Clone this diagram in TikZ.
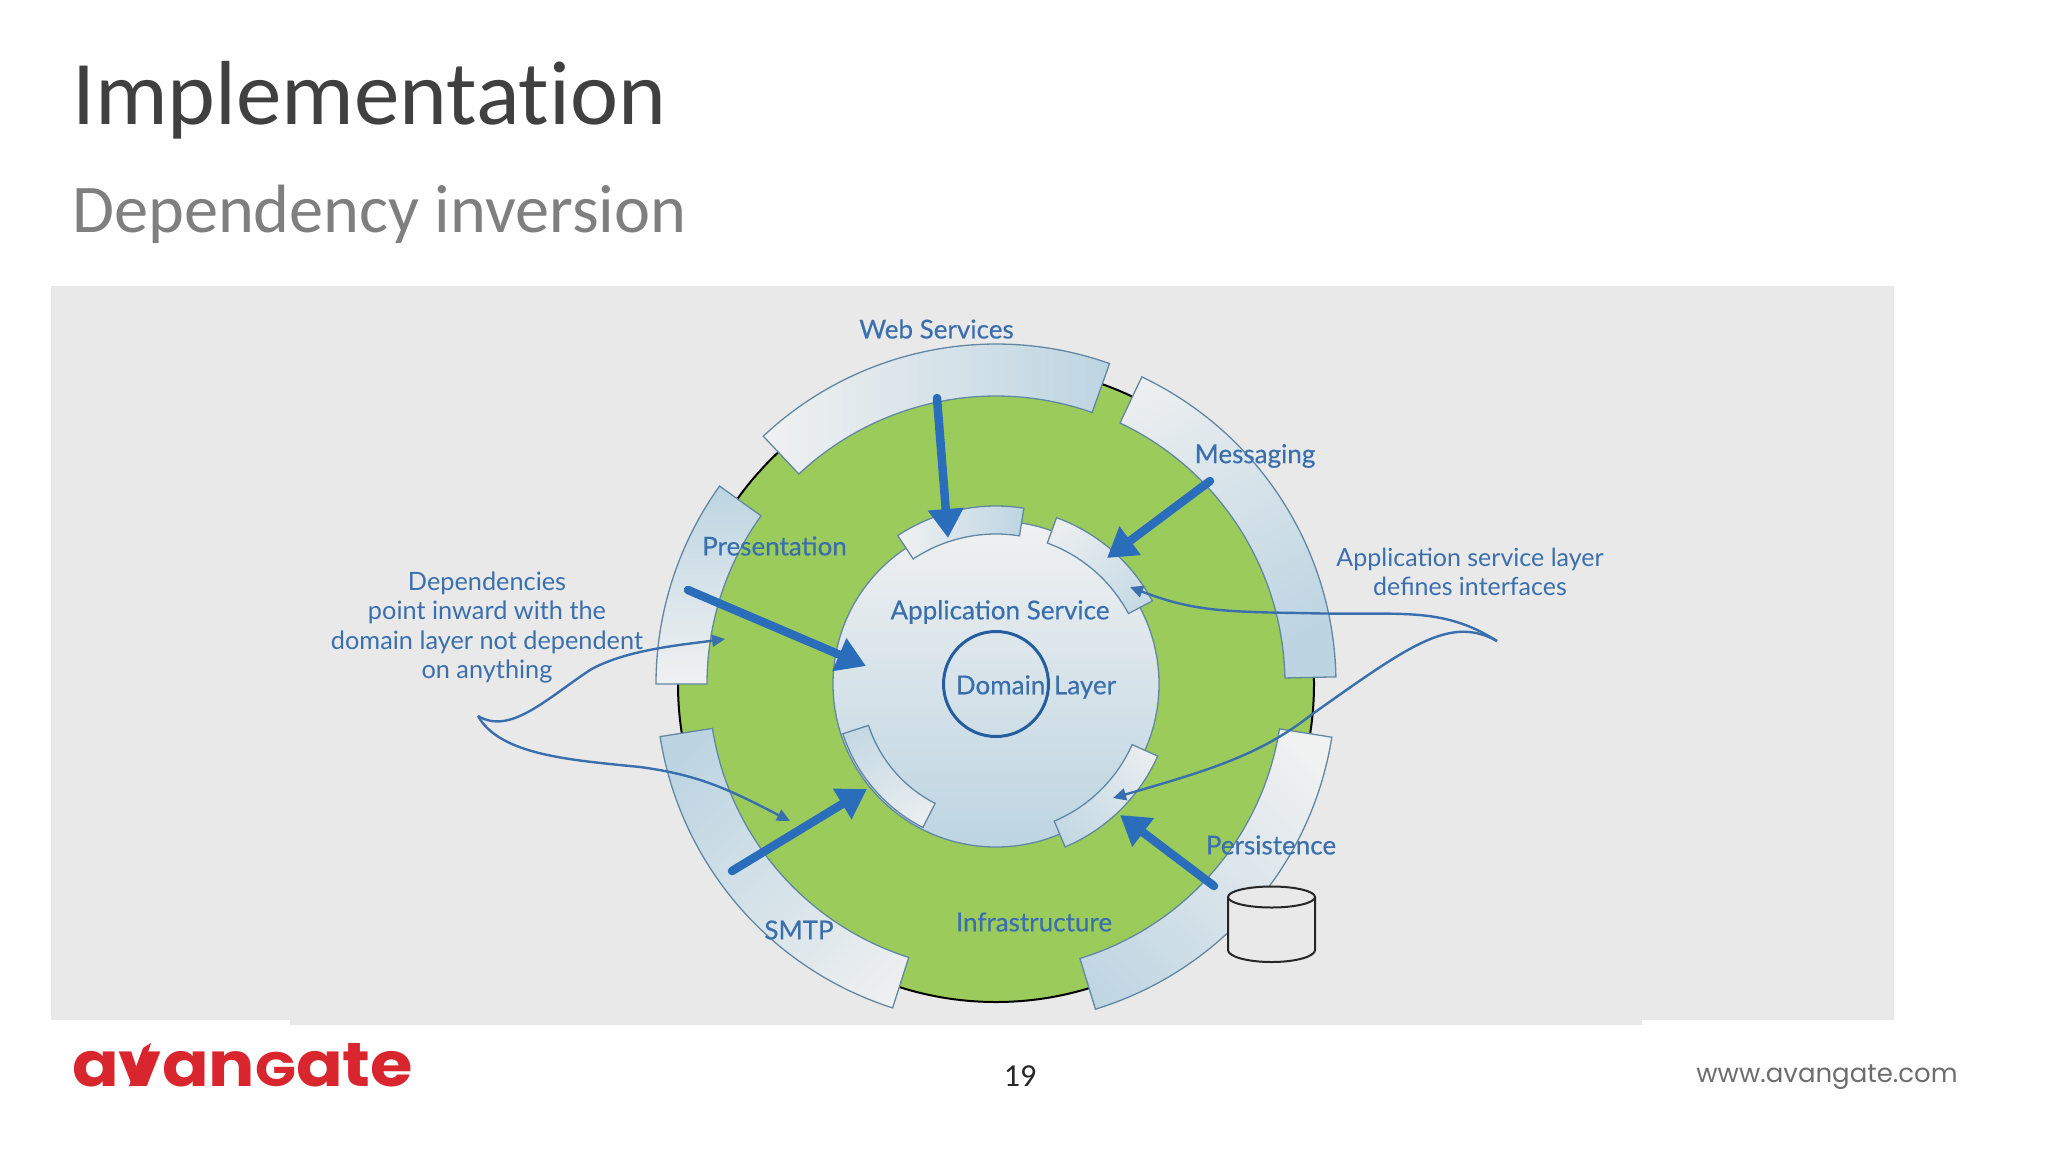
\documentclass[tikz,border=0pt]{standalone}
\usepackage{fontspec}
\usetikzlibrary{arrows.meta,shadings,calc}
\setmainfont[Ligatures=NoCommon]{Carlito}
\newfontfamily\lato[FakeBold=0.4]{Lato}
\newfontfamily\latolight{Lato}
\newfontfamily\logofont{Poppins}
\definecolor{greyband}{HTML}{E9E9E9}
\definecolor{ringgreen}{HTML}{9BCB5B}
\definecolor{paleend}{HTML}{F0F1F1}
\definecolor{blueend}{HTML}{BDD5E2}
\definecolor{segline}{HTML}{6287A3}
\definecolor{inkblue}{HTML}{3A6FAE}
\definecolor{arrowblue}{HTML}{2A6EBB}
\definecolor{titlegrey}{HTML}{404040}
\definecolor{subgrey}{HTML}{7F7F7F}
\definecolor{logored}{HTML}{D9252E}
\definecolor{urlgrey}{HTML}{6D6D6D}
\tikzset{
 seg/.style={draw=segline,line width=1.3pt},
 thickarrow/.style={draw=arrowblue,line width=8.5pt,line cap=round,-{Triangle[length=29pt,width=34pt]}},
 thinarrow/.style={draw=inkblue,line width=2.4pt,-{Triangle[length=13pt,width=12pt]}},
 lab/.style={inner sep=0pt,text=inkblue,font=\lato\fontsize{26}{29}\selectfont},
 note/.style={inner sep=0pt,text=inkblue,align=center,font=\latolight\fontsize{25.3}{29.3}\selectfont},
}
% annular sector round (996,684): start, end, inner r, outer r, shading
\newcommand{\sector}[5]{%
 \shadedraw[seg,#5] (996,684) ++(#1:#4 and -#4) arc[start angle=#1,end angle=#2,x radius=#4,y radius=-#4]
   -- ($(996,684)+(#2:#3 and -#3)$) arc[start angle=#2,end angle=#1,x radius=#3,y radius=-#3] -- cycle;}
\begin{document}
\begin{tikzpicture}[x=1pt,y=-1pt]
\useasboundingbox (0,0) rectangle (2048,1152);
\fill[white] (0,0) rectangle (2048,1152);
\fill[greyband] (51,286) rectangle (1894,1020);
\fill[greyband] (290,1000) rectangle (1642,1025);
\node[inner sep=0pt,anchor=base west,text=titlegrey,font=\fontsize{91}{91}\selectfont] (title) at (72,124) {Implementation};
\node[inner sep=0pt,anchor=base west,text=subgrey,font=\fontsize{68.3}{68.3}\selectfont] (subtitle) at (72,232) {Dependency inversion};
% rings
\fill[ringgreen] (996,684) circle[radius=318];
\draw[black,line width=2pt] (996,684) circle[radius=318];
\shadedraw[top color=paleend,bottom color=blueend,draw=segline,line width=1.3pt] (996,684) circle[radius=163];
\sector{70.5}{133.2}{288}{340}{left color=paleend,right color=blueend}
\sector{1.2}{64.6}{289}{340}{top color=paleend,bottom color=blueend,shading angle=30}
\sector{144.4}{180}{289}{340}{top color=blueend,bottom color=paleend}
\sector{188.9}{252.3}{287}{340}{top color=blueend,bottom color=paleend,shading angle=45}
\sector{287}{351}{287}{340}{top color=paleend,bottom color=blueend,shading angle=-45}
\sector{81}{123.5}{150}{178}{left color=paleend,right color=blueend}
\sector{28}{70}{150}{177}{top color=paleend,bottom color=blueend,shading angle=45}
\sector{198}{243}{134}{161}{top color=blueend,bottom color=paleend,shading angle=30}
\sector{293}{336}{149}{177}{top color=paleend,bottom color=blueend,shading angle=-45}
\draw[arrowblue!85!black,line width=3pt] (996,684) circle[radius=52.5];
% database
\path[fill=greyband,draw=black!85,line width=2pt] (1228,897) -- (1228,950) arc[start angle=180,end angle=360,x radius=43.5,y radius=-12] -- (1315,897);
\draw[black!85,line width=2pt,fill=greyband] (1271.5,897) ellipse[x radius=43.5,y radius=10.5];
% coordinates of connector ends
\coordinate (webS) at (937,398);\coordinate (webT) at (948,538);
\coordinate (msgS) at (1210,481);\coordinate (msgT) at (1107,558);
\coordinate (preS) at (688,590);\coordinate (preT) at (866,666);
\coordinate (smtS) at (732,871);\coordinate (smtT) at (867,789);
\coordinate (perS) at (1214,886);\coordinate (perT) at (1120,815);
\coordinate (forkR) at (1497,641);\coordinate (forkL) at (478,716);
\coordinate (tipA) at (1130,587);\coordinate (tipB) at (1113,798);
\coordinate (tipC) at (725,639);\coordinate (tipD) at (790,821);
\draw[thickarrow] (webS) -- (webT);
\draw[thickarrow] (msgS) -- (msgT);
\draw[thickarrow] (preS) -- (preT);
\draw[thickarrow] (smtS) -- (smtT);
\draw[thickarrow] (perS) -- (perT);
\draw[thinarrow] (forkR) .. controls (1440,605) and (1400,616) .. (1300,613) .. controls (1220,612) and (1190,610) .. (tipA);
\draw[thinarrow] (forkR) .. controls (1450,615) and (1410,645) .. (1311,715) .. controls (1260,755) and (1210,770) .. (tipB);
\draw[thinarrow] (forkL) .. controls (510,735) and (545,700) .. (590,670) .. controls (625,650) and (680,645) .. (tipC);
\draw[thinarrow] (forkL) .. controls (500,755) and (570,760) .. (640,767) .. controls (700,775) and (730,790) .. (tipD);
% labels
\node[lab] (web) at (936.5,329) {Web Services};
\node[lab] (msg) at (1255,456) {Messaging};
\node[lab] (pre) at (774.5,546) {Presentation};
\node[lab] (app) at (1000,612) {Application Service};
\node[lab] (dom) at (1036,687) {Domain\hspace{2pt} Layer};
\node[lab] (inf) at (1034,922) {Infrastructure};
\node[lab] (smtp) at (799,930) {SMTP};
\node[lab] (per) at (1271,845) {Persistence};
\node[note] (notel) at (487,627.5) {Dependencies\\point inward with the\\domain layer not dependent\\on anything};
\node[note,font=\latolight\fontsize{25}{29.3}\selectfont] (noter) at (1470,572) {Application service layer\\defines interfaces};
% footer
\node[inner sep=0pt,anchor=base west,text=logored,font=\logofont\bfseries\fontsize{62}{62}\selectfont] (logo) at (72,1086) {\scalebox{1.11}[1]{avan\scalebox{0.78}{G}ate}};
\fill[logored] (129,1086) -- (137,1086) -- (151,1043) -- (143,1048) -- cycle;
\node[inner sep=0pt,text=black!85,font=\fontsize{32}{32}\selectfont] (page) at (1020,1076) {19};
\node[inner sep=0pt,text=urlgrey,font=\logofont\fontsize{26}{26}\selectfont] (url) at (1827,1077) {www.avangate.com};
\end{tikzpicture}
\end{document}
